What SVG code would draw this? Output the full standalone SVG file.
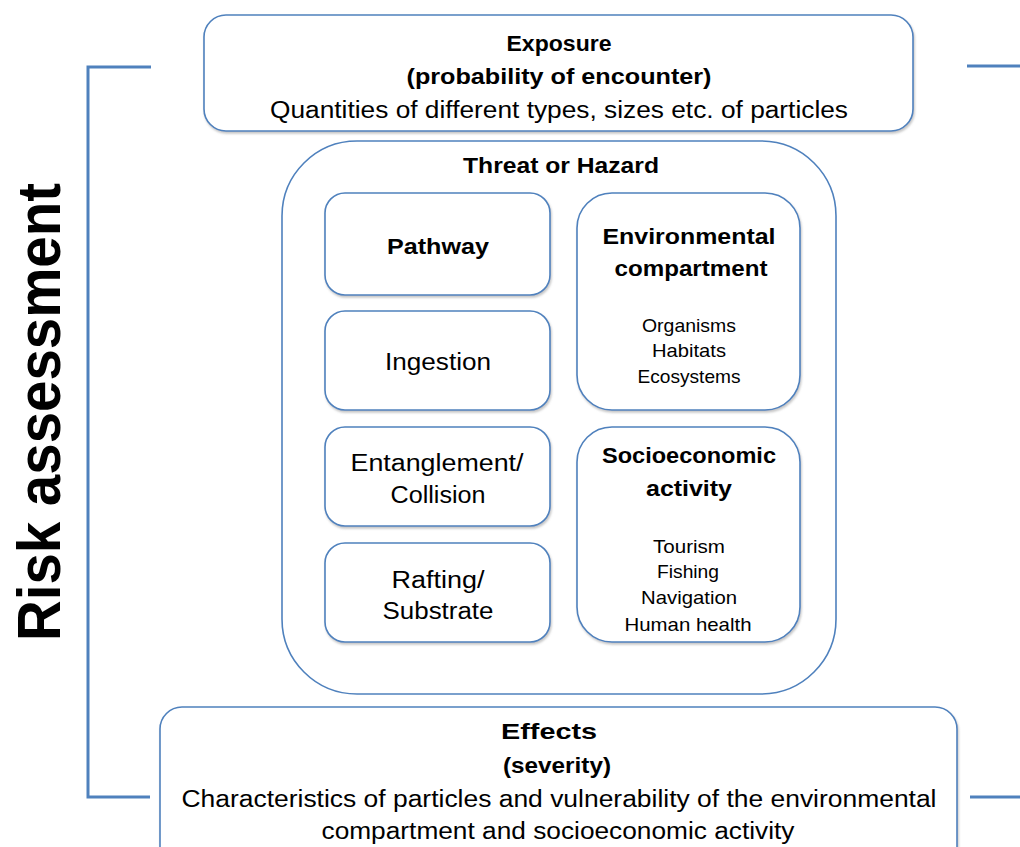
<svg xmlns="http://www.w3.org/2000/svg" width="1020" height="847" viewBox="0 0 1020 847">
<defs>
<filter id="sh" x="-5%" y="-5%" width="110%" height="115%">
<feDropShadow dx="1" dy="2" stdDeviation="1" flood-color="#808080" flood-opacity="0.45"/>
</filter>
</defs>
<style>
.box{fill:#fff;stroke:#4f81bd;stroke-width:1.6;filter:url(#sh)}
.big{fill:#fff;stroke:#4f81bd;stroke-width:1.6}
.br{fill:none;stroke:#4f81bd;stroke-width:3}
text{font-family:"Liberation Sans",Arial,sans-serif;fill:#000;text-anchor:middle}
.b{font-weight:bold;font-size:22px}
.r{font-size:23px}
.s{font-size:18.5px}
.title{font-weight:bold;font-size:62px;text-anchor:start}
</style>
<rect width="1020" height="847" fill="#fff"/>
<g id="connectors">
<path class="br" d="M151,67 H88 V797 H150"/>
<path class="br" d="M967,66 H1020"/>
<path class="br" d="M970,797 H1020"/>
</g>
<g id="risk-assessment">
<text class="title" transform="translate(60,641) rotate(-90)" textLength="458" lengthAdjust="spacingAndGlyphs">Risk assessment</text>
</g>
<g id="exposure">
<rect class="box" x="204" y="15" width="709" height="116" rx="22"/>
<text class="b" x="559" y="51" textLength="105" lengthAdjust="spacingAndGlyphs">Exposure</text>
<text class="b" x="559" y="84" textLength="305" lengthAdjust="spacingAndGlyphs">(probability of encounter)</text>
<text class="r" x="559" y="118" textLength="578" lengthAdjust="spacingAndGlyphs">Quantities of different types, sizes etc. of particles</text>
</g>
<g id="threat">
<rect class="big" x="282" y="141" width="554" height="553" rx="75"/>
<text class="b" x="561" y="173" textLength="196" lengthAdjust="spacingAndGlyphs">Threat or Hazard</text>
</g>
<g id="pathway">
<rect class="box" x="325" y="193" width="225" height="102" rx="20"/>
<text class="b" x="438" y="254" textLength="102" lengthAdjust="spacingAndGlyphs">Pathway</text>
</g>
<g id="ingestion">
<rect class="box" x="325" y="311" width="225" height="99" rx="20"/>
<text class="r" x="438" y="370" textLength="106" lengthAdjust="spacingAndGlyphs">Ingestion</text>
</g>
<g id="entanglement">
<rect class="box" x="325" y="427" width="225" height="99" rx="20"/>
<text class="r" x="437" y="471" textLength="173" lengthAdjust="spacingAndGlyphs">Entanglement/</text>
<text class="r" x="438" y="503" textLength="95" lengthAdjust="spacingAndGlyphs">Collision</text>
</g>
<g id="rafting">
<rect class="box" x="325" y="543" width="225" height="99" rx="20"/>
<text class="r" x="438" y="588" textLength="93" lengthAdjust="spacingAndGlyphs">Rafting/</text>
<text class="r" x="438" y="619" textLength="111" lengthAdjust="spacingAndGlyphs">Substrate</text>
</g>
<g id="environmental">
<rect class="box" x="577" y="193" width="223" height="217" rx="35"/>
<text class="b" x="689" y="244" textLength="173" lengthAdjust="spacingAndGlyphs">Environmental</text>
<text class="b" x="691" y="276" textLength="153" lengthAdjust="spacingAndGlyphs">compartment</text>
<text class="s" x="689" y="332" textLength="94" lengthAdjust="spacingAndGlyphs">Organisms</text>
<text class="s" x="689" y="357" textLength="74" lengthAdjust="spacingAndGlyphs">Habitats</text>
<text class="s" x="689" y="383" textLength="103" lengthAdjust="spacingAndGlyphs">Ecosystems</text>
</g>
<g id="socioeconomic">
<rect class="box" x="577" y="427" width="223" height="215" rx="35"/>
<text class="b" x="689" y="463" textLength="174" lengthAdjust="spacingAndGlyphs">Socioeconomic</text>
<text class="b" x="689" y="496" textLength="86" lengthAdjust="spacingAndGlyphs">activity</text>
<text class="s" x="689" y="553" textLength="72" lengthAdjust="spacingAndGlyphs">Tourism</text>
<text class="s" x="688" y="578" textLength="62" lengthAdjust="spacingAndGlyphs">Fishing</text>
<text class="s" x="689" y="604" textLength="96" lengthAdjust="spacingAndGlyphs">Navigation</text>
<text class="s" x="688" y="631" textLength="127" lengthAdjust="spacingAndGlyphs">Human health</text>
</g>
<g id="effects">
<rect class="box" x="160" y="707" width="797" height="170" rx="22"/>
<text class="b" x="549" y="739" textLength="96" lengthAdjust="spacingAndGlyphs">Effects</text>
<text class="b" x="557" y="773" textLength="108" lengthAdjust="spacingAndGlyphs">(severity)</text>
<text class="r" x="559" y="807" textLength="755" lengthAdjust="spacingAndGlyphs">Characteristics of particles and vulnerability of the environmental</text>
<text class="r" x="558" y="839" textLength="473" lengthAdjust="spacingAndGlyphs">compartment and socioeconomic activity</text>
</g>
</svg>
